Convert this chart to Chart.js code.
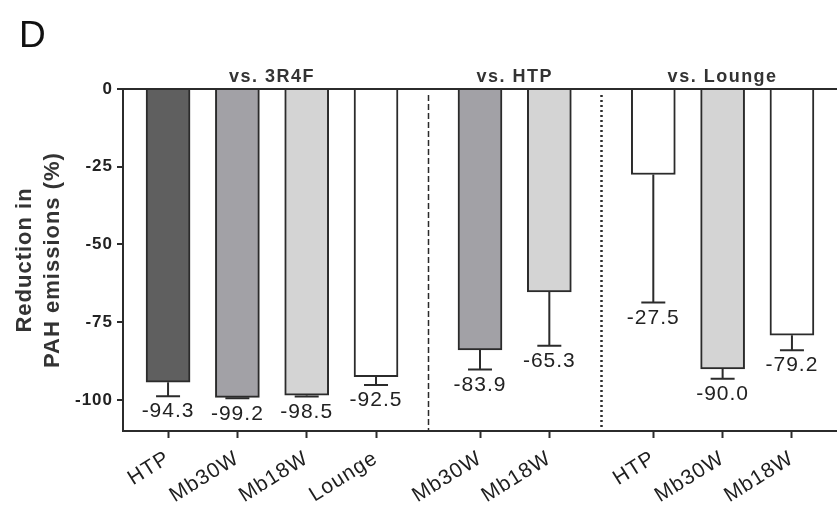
<!DOCTYPE html>
<html>
<head>
<meta charset="utf-8">
<script src="https://cdn.jsdelivr.net/npm/chart.js@4.4.0/dist/chart.umd.min.js"></script>
<style>
  html, body { margin: 0; padding: 0; background: #fff; }
</style>
</head>
<body>
<canvas id="myChart" width="837" height="509"></canvas>
<script>
var labels = ["HTP", "Mb30W", "Mb18W", "Lounge", "Mb30W", "Mb18W", "HTP", "Mb30W", "Mb18W"];
var groupOf = [0, 0, 0, 0, 1, 1, 2, 2, 2];
var groupNames = ["vs. 3R4F", "vs. HTP", "vs. Lounge"];
var values = [-94.3, -99.2, -98.5, -92.5, -83.9, -65.3, -27.5, -90.0, -79.2];
var errors = [4.5, 0.3, 0.4, 2.7, 6.3, 17.3, 41.2, 3.2, 4.8];
var yTicks = [0, -25, -50, -75, -100];

var fills = ["#5f5f5f", "#a2a1a6", "#d4d4d4", "#ffffff", "#a2a1a6", "#d4d4d4", "#ffffff", "#d4d4d4", "#ffffff"];
var font = "'Liberation Sans', Arial, sans-serif";
var ink = "#2b2b2b";

// one slot per bar, plus half a slot between groups
var xPos = labels.map(function(l, i) {
  return i + 0.5 * groupOf[i];
});

var extras = {
  id: "extras",
  beforeDraw: function(chart) {
    chart.ctx.letterSpacing = "1px";
  },
  afterDatasetsDraw: function(chart) {
    var ctx = chart.ctx;
    var x = chart.scales.x;
    var y = chart.scales.y;
    var area = chart.chartArea;
    ctx.save();

    // error bars + value labels
    ctx.strokeStyle = ink;
    ctx.lineWidth = 2;
    ctx.fillStyle = "#222";
    ctx.font = "21px " + font;
    ctx.textAlign = "center";
    ctx.textBaseline = "top";
    for (var i = 0; i < values.length; i++) {
      var px = x.getPixelForValue(xPos[i]);
      var y0 = y.getPixelForValue(values[i]);
      var y1 = y.getPixelForValue(values[i] - errors[i]);
      ctx.beginPath();
      ctx.moveTo(px, y0);
      ctx.lineTo(px, y1);
      ctx.moveTo(px - 12, y1);
      ctx.lineTo(px + 12, y1);
      ctx.stroke();
      ctx.fillText(values[i].toFixed(1), px, y1 + 5);
    }

    // separators between groups
    for (var g = 1; g < groupNames.length; g++) {
      var last = groupOf.lastIndexOf(g - 1);
      var first = groupOf.indexOf(g);
      var sx = Math.round(x.getPixelForValue((xPos[last] + xPos[first]) / 2)) + 0.5;
      ctx.beginPath();
      if (g == 1) {
        ctx.setLineDash([6, 3]);
        ctx.lineWidth = 1.5;
      } else {
        ctx.setLineDash([2, 3]);
        ctx.lineWidth = 2.5;
      }
      ctx.moveTo(sx, area.top + 6);
      ctx.lineTo(sx, area.bottom);
      ctx.stroke();
    }
    ctx.setLineDash([]);

    // group headings
    ctx.font = "bold 18px " + font;
    ctx.letterSpacing = "1.5px";
    ctx.fillStyle = "#333";
    ctx.textBaseline = "alphabetic";
    groupNames.forEach(function(name, g) {
      var first = groupOf.indexOf(g);
      var last = groupOf.lastIndexOf(g);
      var cx = x.getPixelForValue((xPos[first] + xPos[last]) / 2);
      ctx.fillText(name, cx, area.top - 7);
    });

    // panel letter
    ctx.letterSpacing = "0px";
    ctx.font = "37px " + font;
    ctx.fillStyle = "#111";
    ctx.textAlign = "left";
    ctx.fillText("D", 19, 47);
    ctx.restore();
  }
};

var myChart = new Chart(document.getElementById("myChart"), {
  type: "bar",
  data: {
    datasets: [
      {
        data: values.map(function(v, i) {
          return { x: xPos[i], y: v };
        }),
        backgroundColor: fills,
        borderColor: ink,
        borderWidth: 2,
        barThickness: 44
      }
    ]
  },
  options: {
    responsive: false,
    animation: false,
    layout: { padding: { top: 89, left: 0, right: 0, bottom: 0 } },
    plugins: {
      legend: { display: false },
      tooltip: { enabled: false }
    },
    scales: {
      x: {
        type: "linear",
        offset: false,
        min: -0.65,
        max: 9.65,
        afterBuildTicks: function(scale) {
          scale.ticks = xPos.map(function(v) {
            return { value: v };
          });
        },
        afterFit: function(scale) {
          scale.height = 78;
          scale.paddingLeft = 0;
          scale.paddingRight = 0;
        },
        grid: {
          offset: false,
          drawOnChartArea: false,
          tickLength: 7,
          tickColor: ink,
          tickWidth: 2
        },
        border: { color: ink, width: 2 },
        ticks: {
          autoSkip: false,
          minRotation: 32,
          maxRotation: 32,
          padding: 8,
          color: "#1e1e1e",
          font: { family: font, size: 21 },
          callback: function(value) {
            var i = xPos.indexOf(value);
            return i >= 0 ? labels[i] : "";
          }
        }
      },
      y: {
        min: -110,
        max: 0,
        afterBuildTicks: function(scale) {
          scale.ticks = yTicks.map(function(v) {
            return { value: v };
          });
        },
        afterFit: function(scale) {
          scale.width = 123;
        },
        grid: {
          z: 1,
          color: function(c) {
            return c.tick && c.tick.value === 0 ? ink : "rgba(0,0,0,0)";
          },
          lineWidth: 2,
          tickLength: 6,
          tickColor: ink,
          tickWidth: 2
        },
        border: { color: ink, width: 2, z: 1 },
        ticks: {
          padding: 4,
          color: "#222",
          font: { family: font, size: 17, weight: "bold" }
        },
        title: {
          display: true,
          text: ["Reduction in", "PAH emissions (%)"],
          color: "#333",
          padding: { top: 11, bottom: 0 },
          font: { family: font, size: 22, weight: "bold", lineHeight: 1.27 }
        }
      }
    }
  },
  plugins: [extras]
});
</script>
</body>
</html>
